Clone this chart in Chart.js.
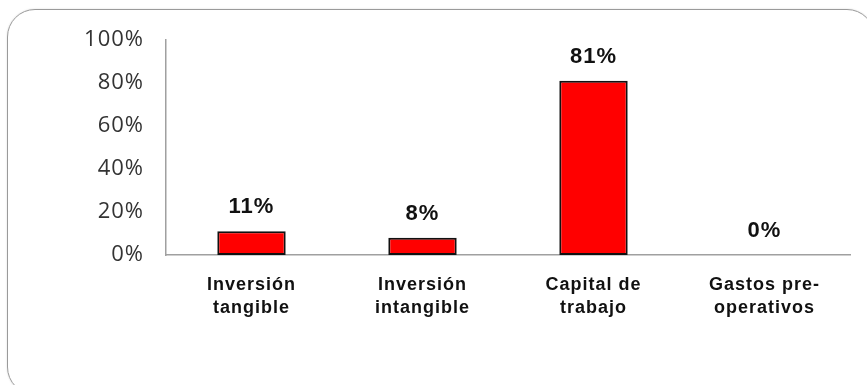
<!DOCTYPE html>
<html lang="es">
  <head>
    <meta charset="UTF-8" />
    <title>Distribución de la inversión</title>
    <style>
      body {
        margin: 0;
        background: #fff;
        overflow: hidden;
      }
      .frame {
        position: absolute;
        left: 7px;
        top: 9px;
        width: 866px;
        height: 384px;
        border: 1.5px solid #9a9a9a;
        border-radius: 28px;
        box-shadow: 0 0 2px rgba(0, 0, 0, 0.15);
      }
      .wrap {
        position: absolute;
        left: 0;
        top: 0;
        width: 867px;
        height: 385px;
      }
    </style>
    <script src="https://cdn.jsdelivr.net/npm/chart.js"></script>
  </head>
  <body>
    <div class="frame"></div>
    <div class="wrap">
      <canvas id="investChart" width="867" height="385"></canvas>
    </div>
    <script>
      const categories = [
        ["Inversión", "tangible"],
        ["Inversión", "intangible"],
        ["Capital de", "trabajo"],
        ["Gastos pre-", "operativos"],
      ];
      const shares = [11, 8, 81, 0];
      const yTicks = [0, 20, 40, 60, 80, 100];

      // slightly wider tracking like the original office chart
      const tracking = {
        id: "tracking",
        beforeDraw(chart) {
          chart.ctx.letterSpacing = "1px";
        },
      };

      // draws the % value above each bar
      const valueLabels = {
        id: "valueLabels",
        afterDatasetsDraw(chart) {
          const ctx = chart.ctx;
          const meta = chart.getDatasetMeta(0);
          ctx.save();
          ctx.font = "bold 22px 'Liberation Sans', Arial, sans-serif";
          ctx.fillStyle = "#111";
          ctx.textAlign = "center";
          ctx.textBaseline = "bottom";
          meta.data.forEach((bar, i) => {
            ctx.fillText(shares[i] + "%", bar.x, bar.y - 13);
          });
          ctx.restore();
        },
      };

      new Chart(document.getElementById("investChart").getContext("2d"), {
        type: "bar",
        data: {
          labels: categories,
          datasets: [
            {
              data: shares,
              backgroundColor: "#ff0000",
              borderColor: "#111",
              borderWidth: 2,
              borderSkipped: false,
              barPercentage: 0.4,
              categoryPercentage: 1,
            },
          ],
        },
        options: {
          responsive: false,
          animation: false,
          layout: { padding: { top: 40, right: 17, left: 0, bottom: 0 } },
          plugins: {
            legend: { display: false },
            tooltip: { enabled: false },
          },
          scales: {
            x: {
              grid: { display: false },
              border: { display: true, color: "#a0a0a0", width: 1.5 },
              ticks: {
                padding: 11,
                color: "#111",
                font: { family: "'Liberation Sans', Arial", size: 18, weight: "bold", lineHeight: 1.25 },
                maxRotation: 0,
                autoSkip: false,
              },
              afterFit(scale) {
                scale.height = 130;
              },
            },
            y: {
              min: 0,
              max: 100,
              grid: { display: false },
              border: { display: true, color: "#a0a0a0", width: 1.5 },
              afterBuildTicks(scale) {
                scale.ticks = yTicks.map((v) => ({ value: v }));
              },
              ticks: {
                padding: 14,
                color: "#333",
                font: { family: "'Open Sans', sans-serif", size: 22 },
                callback: (v) => v + "%",
              },
              afterFit(scale) {
                scale.width = 166;
              },
            },
          },
        },
        plugins: [tracking, valueLabels],
      });
    </script>
  </body>
</html>
